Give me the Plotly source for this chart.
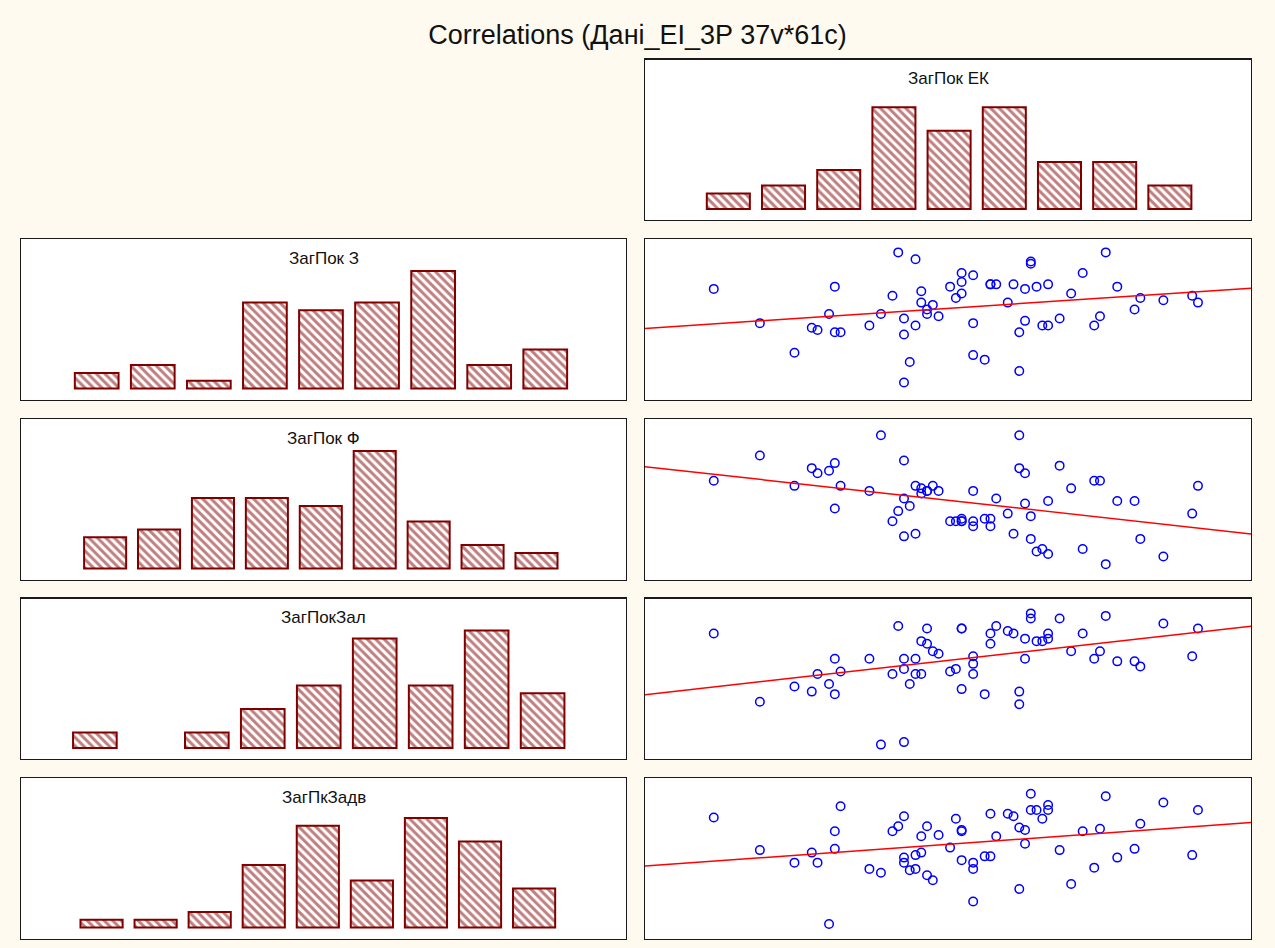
import numpy as np
import plotly.graph_objects as go

# ---------------- data ----------------
title_text = "Correlations (Дані_EI_3P 37v*61c)"
var_names = ["ЗагПок ЕК", "ЗагПок З", "ЗагПок Ф", "ЗагПокЗал", "ЗагПкЗадв"]

bin_idx = [1, 2, 3, 4, 5, 6, 7, 8, 9]
hist_ek = [2, 3, 5, 13, 10, 13, 6, 6, 3]
hist_z = [2, 3, 1, 11, 10, 11, 15, 3, 5]
hist_f = [4, 5, 9, 9, 8, 15, 6, 3, 2]
hist_zal = [2, 0, 2, 5, 8, 14, 8, 15, 7]
hist_zadv = [1, 1, 2, 8, 13, 6, 14, 11, 5]

ek = [0, 8, 14, 17, 18, 20, 21, 21, 22, 27, 29, 31, 32, 33, 33, 33, 34, 35, 35, 36,
      36, 37, 37, 38, 39, 41, 42, 43, 43, 43, 45, 45, 45, 47, 48, 48, 49, 51, 52, 53,
      53, 54, 54, 55, 55, 56, 57, 58, 58, 60, 62, 64, 66, 67, 68, 70, 73, 74, 78, 83, 84]
zag_z = [41, 26, 13, 24, 23, 30, 42, 22, 22, 25, 30, 38, 57, 28, 21, 0, 9, 54, 25, 40,
         35, 32, 30, 34, 29, 42, 37, 48, 44, 39, 47, 26, 12, 10, 43, 43, 43, 35, 43, 22,
         5, 41, 27, 53, 52, 42, 25, 43, 25, 28, 39, 48, 25, 29, 57, 42, 32, 37, 36, 38, 35]
zag_f = [33, 43, 31, 38, 36, 37, 40, 22, 31, 29, 51, 17, 21, 41, 26, 11, 23, 31, 12, 30,
         28, 29, 29, 31, 29, 17, 17, 18, 17, 17, 29, 17, 15, 18, 18, 15, 26, 20, 12, 51,
         38, 36, 24, 19, 10, 5, 6, 25, 4, 39, 30, 6, 33, 33, 0, 25, 25, 10, 3, 20, 31]
zag_zal = [44, 17, 23, 21, 28, 24, 34, 20, 29, 34, 0, 28, 47, 34, 30, 1, 24, 34, 28, 41,
           28, 46, 40, 37, 36, 29, 30, 46, 46, 22, 35, 32, 28, 20, 44, 40, 47, 45, 44, 21,
           16, 42, 34, 52, 50, 41, 41, 44, 42, 50, 37, 44, 34, 37, 51, 33, 33, 31, 48, 35, 46]
zag_zadv = [85, 59, 49, 57, 49, 0, 74, 60, 94, 44, 41, 74, 78, 86, 53, 49, 43, 55, 44, 70,
            57, 78, 39, 35, 71, 61, 84, 75, 74, 51, 49, 44, 18, 54, 88, 54, 70, 88, 86, 77,
            28, 75, 64, 104, 91, 91, 84, 95, 91, 59, 32, 74, 45, 76, 102, 53, 60, 80, 97, 55, 91]

# ---------------- layout / style ----------------
W, H = 1275, 948
FONT = "Liberation Sans, Arial, sans-serif"
BG = "#FFFAEF"
BAR_C = "#800000"

left_px = (21, 626)
right_px = (645, 1251)
row_tops = [59.5, 239, 419, 598.5, 778]
row_h = 160.5

hist_xr = [[-0.51, 10.47], [-0.35, 10.44], [-0.56, 10.66], [-0.32, 10.49], [-0.49, 10.70]]
hist_yr = [-1.4, 19.1]
sc_xr = [-11.93, 93.2]
sc_yr = [[-7.46, 62.87], [-6.08, 57.46], [-5.7, 57.9], [-11.5, 116.5]]

hists = [hist_ek, hist_z, hist_f, hist_zal, hist_zadv]
ys = [zag_z, zag_f, zag_zal, zag_zadv]

fig = go.Figure()
layout = {}
annotations = []


def dom_x(px):
    return [px[0] / W, px[1] / W]


def dom_y(r):
    top = row_tops[r]
    return [1 - (top + row_h) / H, 1 - top / H]


def axis_style(domain, rng, anchor):
    return dict(domain=domain, range=rng, anchor=anchor, showgrid=False, zeroline=False,
                showticklabels=False, ticks="", showline=True, mirror=True,
                linecolor="#1a1a1a", linewidth=1.2, fixedrange=True)


n = 0
panels = [("hist", 0, right_px)]
for r in range(1, 5):
    panels.append(("hist", r, left_px))
    panels.append(("scat", r, right_px))

for kind, r, px in panels:
    n += 1
    xa = "x" if n == 1 else f"x{n}"
    ya = "y" if n == 1 else f"y{n}"
    xk = "xaxis" if n == 1 else f"xaxis{n}"
    yk = "yaxis" if n == 1 else f"yaxis{n}"
    if kind == "hist":
        counts = hists[r]
        lw = [2 if c > 0 else 0 for c in counts]
        fig.add_trace(go.Bar(
            x=bin_idx, y=counts, width=0.78, xaxis=xa, yaxis=ya, showlegend=False,
            marker=dict(color="white", line=dict(color=BAR_C, width=lw),
                        pattern=dict(shape="\\", fgcolor=BAR_C, bgcolor="white",
                                     size=6, solidity=0.5)),
            hoverinfo="skip"))
        layout[xk] = axis_style(dom_x(px), hist_xr[r], ya)
        layout[yk] = axis_style(dom_y(r), hist_yr, xa)
        annotations.append(dict(
            text=var_names[r], xref="paper", yref="paper",
            x=(px[0] + px[1]) / 2 / W, y=1 - (row_tops[r] + 19) / H,
            xanchor="center", yanchor="middle", showarrow=False,
            font=dict(family=FONT, size=17, color="#111111")))
    else:
        yv = ys[r - 1]
        fig.add_trace(go.Scatter(
            x=ek, y=yv, mode="markers", xaxis=xa, yaxis=ya, showlegend=False,
            marker=dict(symbol="circle-open", size=8.5, color="#0000FF",
                        line=dict(width=1.5, color="#0000FF")),
            hoverinfo="skip"))
        slope, icpt = np.polyfit(ek, yv, 1)
        lx = np.array(sc_xr)
        fig.add_trace(go.Scatter(
            x=lx, y=slope * lx + icpt, mode="lines", xaxis=xa, yaxis=ya,
            showlegend=False, line=dict(color="#FF0000", width=1.5), hoverinfo="skip"))
        layout[xk] = axis_style(dom_x(px), sc_xr, ya)
        layout[yk] = axis_style(dom_y(r), sc_yr[r - 1], xa)

fig.update_layout(**layout)
fig.update_layout(
    width=W, height=H, autosize=False,
    margin=dict(l=0, r=0, t=0, b=0, pad=0),
    paper_bgcolor=BG, plot_bgcolor="white",
    font=dict(family=FONT, color="#111111"),
    title=dict(text=title_text, x=0.5, xanchor="center", y=1 - 35 / H, yanchor="middle",
               font=dict(family=FONT, size=27, color="#111111")),
    annotations=annotations,
    bargap=0,
    hovermode=False,
)

fig.write_html("out.html",
               config={"displayModeBar": False, "staticPlot": True},
               post_script="document.body.style.margin='0';document.body.style.overflow='hidden';")
